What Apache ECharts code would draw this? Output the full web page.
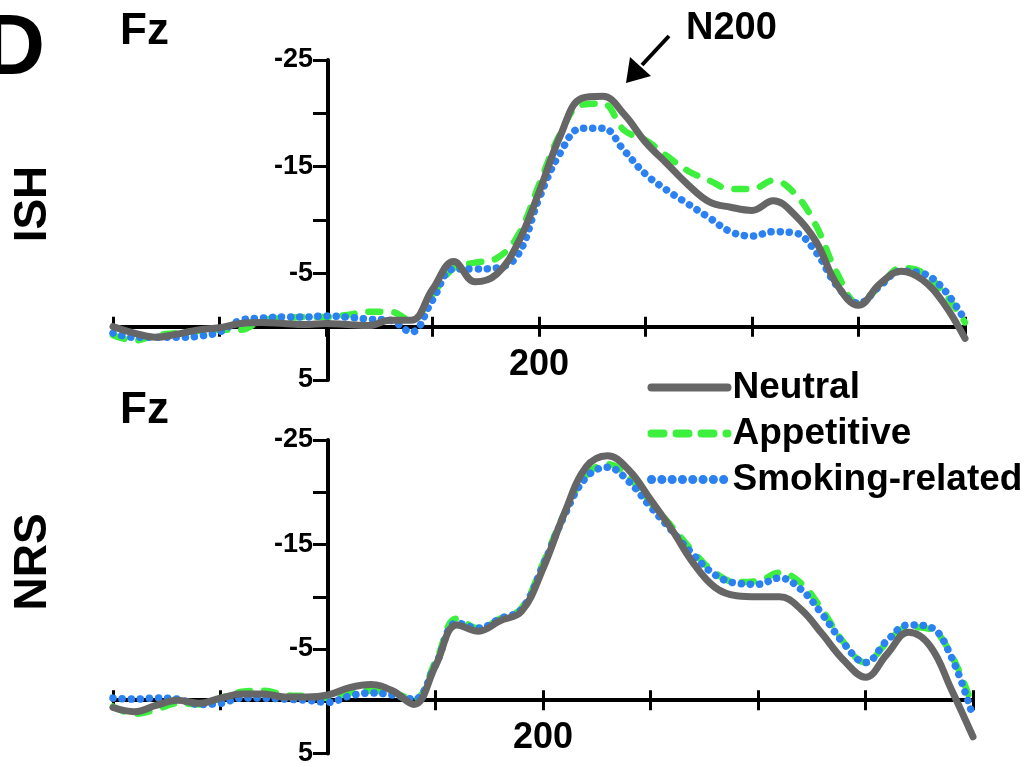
<!DOCTYPE html>
<html>
<head>
<meta charset="utf-8">
<script src="https://cdn.jsdelivr.net/npm/echarts@6/dist/echarts.min.js"></script>
<style>
html, body { margin: 0; padding: 0; background: #fff; }
#main { width: 1032px; height: 767px; }
</style>
</head>
<body>
<div id="main"></div>
<script>
// time points (ms), shared by all waves
const times = [-200, -180, -160, -140, -120, -100, -80, -60, -40, -20, 0, 20, 40, 60, 80, 100, 120, 140, 160, 180,
    200, 220, 240, 260, 280, 300, 320, 340, 360, 380, 400, 420, 440, 460, 480, 500, 520, 540, 560, 580, 600];

// ISH group, Fz (uV)
const ishNeutral = [0.0, 0.6, 1.0, 0.7, 0.3, 0.1, -0.3, -0.4, -0.3, -0.2, -0.3, -0.2, -0.1, -0.6, -0.6, -3.5, -6.1, -4.2, -4.9, -7.8,
    -12.6, -17.9, -21.4, -21.6, -19.9, -17.3, -15.3, -13.3, -11.7, -11.2, -10.9, -11.8, -10.5, -8.0, -3.9, -2.0, -4.0, -5.2, -4.4, -2.2, 1.1];
const ishAppetitive = [0.8, 1.3, 0.8, 0.6, 0.4, 0.3, 0.3, -0.6, -0.8, -0.9, -0.9, -1.1, -1.4, -1.4, -0.6, -3.0, -5.5, -6.0, -6.4, -8.5,
    -13.3, -18.1, -20.8, -20.9, -18.4, -17.5, -16.0, -14.6, -13.7, -12.9, -12.9, -13.7, -12.5, -9.5, -5.0, -2.2, -3.8, -5.5, -5.1, -3.2, -0.4];
const ishSmoking = [0.6, 1.0, 1.0, 1.0, 0.9, 0.5, -0.6, -0.8, -0.9, -0.9, -1.0, -0.9, -0.7, -0.6, 0.5, -2.5, -5.4, -5.4, -5.5, -6.7,
    -12.0, -16.3, -18.6, -18.6, -16.5, -14.3, -12.8, -11.5, -10.2, -8.9, -8.5, -8.9, -8.8, -7.0, -3.8, -2.2, -3.8, -5.2, -5.0, -3.5, -0.6];

// NRS group, Fz (uV)
const nrsNeutral = [0.6, 1.0, 0.4, -0.1, 0.2, -0.3, -0.7, -0.7, -0.4, -0.4, -0.6, -1.3, -1.6, -1.0, 0.3, -3.4, -7.3, -6.7, -7.7, -8.6,
    -12.7, -18.0, -22.4, -23.5, -22.1, -19.3, -16.4, -13.2, -10.9, -10.1, -10.0, -10.0, -8.8, -6.4, -3.9, -2.3, -4.5, -6.6, -5.3, -1.1, 3.4];
const nrsAppetitive = [0.5, 1.2, 0.8, 0.2, 0.3, -0.3, -0.9, -1.0, -0.6, -0.5, -0.3, -0.8, -1.0, -0.8, -0.2, -3.8, -7.9, -7.0, -7.9, -8.9,
    -13.2, -18.0, -21.6, -22.7, -21.4, -19.0, -16.7, -14.3, -12.3, -11.4, -11.5, -12.3, -11.3, -8.7, -5.6, -3.7, -5.6, -7.1, -6.9, -4.4, 0.6];
const nrsSmoking = [-0.3, -0.2, -0.3, -0.2, 0.3, 0.2, -0.3, -0.3, -0.2, -0.1, 0.1, -0.5, -0.8, -0.6, -0.2, -3.5, -7.5, -7.0, -7.9, -8.8,
    -13.0, -17.8, -21.4, -22.4, -21.0, -18.6, -16.3, -14.0, -12.1, -11.3, -11.2, -11.8, -10.7, -8.3, -5.5, -3.7, -5.8, -7.3, -7.1, -4.2, 1.5];

const yTickLabels = [-25, -15, -5, 5];
const xTickLabels = [200];

const FONT = '"Liberation Sans", Arial, sans-serif';
const GRID_H = 320;
// axes cross at (0 ms, 0 uV): shift them from the grid edges
const X_SHIFT = -GRID_H * 5 / 30;
const Y_SHIFT = -(328 - 113);

const conditions = [
    { name: 'Appetitive', color: '#3ef03e', width: 6.5, type: [12, 14], legendType: [12, 13], legendWidth: 8 },
    { name: 'Smoking-related', color: '#2b80f2', width: 7.5, type: [0.1, 9], legendType: [0.1, 10.2], legendWidth: 9 },
    { name: 'Neutral', color: '#666666', width: 7, type: 'solid', legendType: 'solid', legendWidth: 8 }
];
const waves = [
    { Appetitive: ishAppetitive, 'Smoking-related': ishSmoking, Neutral: ishNeutral },
    { Appetitive: nrsAppetitive, 'Smoking-related': nrsSmoking, Neutral: nrsNeutral }
];

function xAxes(gridIndex) {
    const base = {
        type: 'value', gridIndex, min: -200, max: 600, interval: 100,
        position: 'bottom', offset: X_SHIFT,
        axisLine: { show: true, onZero: false, lineStyle: { color: '#000', width: 4 } },
        splitLine: { show: false }
    };
    // two axes on the same line so the ticks cross it
    return [
        Object.assign({}, base, {
            axisTick: { show: true, length: 10, lineStyle: { color: '#000', width: 3 } },
            axisLabel: {
                margin: 20, fontSize: 36, fontWeight: 'bold', color: '#000', fontFamily: FONT,
                formatter: v => xTickLabels.includes(v) ? String(v) : ''
            }
        }),
        Object.assign({}, base, {
            axisTick: { show: true, inside: true, length: 10, lineStyle: { color: '#000', width: 3 } },
            axisLabel: { show: false }
        })
    ];
}

function yAxis(gridIndex) {
    return {
        type: 'value', gridIndex, min: -25, max: 5, interval: 5, inverse: true,
        position: 'left', offset: Y_SHIFT,
        axisLine: { show: true, onZero: false, lineStyle: { color: '#000', width: 4 } },
        axisTick: { show: true, length: 15, lineStyle: { color: '#000', width: 3 } },
        axisLabel: {
            margin: 15, fontSize: 27, fontWeight: 'bold', color: '#000', fontFamily: FONT,
            formatter: v => yTickLabels.includes(v) ? String(v) : ''
        },
        splitLine: { show: false }
    };
}

const series = [];
waves.forEach((panel, p) => {
    conditions.forEach(c => {
        series.push({
            name: c.name, type: 'line', xAxisIndex: p * 2, yAxisIndex: p,
            data: times.map((t, i) => [t, panel[c.name][i]]),
            smooth: 0.4, symbol: 'none', silent: true, animation: false,
            lineStyle: { color: c.color, width: c.width, type: c.type, cap: 'round', join: 'round' },
            itemStyle: { color: c.color }
        });
    });
});

const legendOrder = ['Neutral', 'Appetitive', 'Smoking-related'];
const legendData = legendOrder.map(n => {
    const c = conditions.find(d => d.name === n);
    return {
        name: n,
        itemStyle: { opacity: 0 },
        lineStyle: { color: c.color, width: c.legendWidth, type: c.legendType, cap: 'round' }
    };
});

const txt = (text, x, y, size) => ({
    type: 'text', x, y,
    style: { text, font: 'bold ' + size + 'px ' + FONT, fill: '#000', textAlign: 'left', textVerticalAlign: 'middle' }
});
const vtxt = (text, x, y, size) => ({
    type: 'text', x, y, rotation: Math.PI / 2,
    style: { text, font: 'bold ' + size + 'px ' + FONT, fill: '#000', textAlign: 'center', textVerticalAlign: 'middle' }
});

const chart = echarts.init(document.getElementById('main'));
chart.setOption({
    animation: false,
    backgroundColor: '#fff',
    grid: [
        { left: 113, top: 60, width: 852, height: GRID_H },
        { left: 113, top: 440, width: 860, height: GRID_H }
    ],
    xAxis: xAxes(0).concat(xAxes(1)),
    yAxis: [yAxis(0), yAxis(1)],
    legend: {
        orient: 'vertical', left: 642, top: 363, itemWidth: 76, itemHeight: 12, itemGap: 7,
        selectedMode: false,
        data: legendData,
        textStyle: { fontSize: 37, fontWeight: 'bold', color: '#000', fontFamily: FONT, lineHeight: 39 }
    },
    graphic: [
        txt('D', -17, 50, 86),
        txt('Fz', 120, 32, 44),
        txt('Fz', 120, 411, 44),
        txt('N200', 686, 29, 38),
        vtxt('ISH', 33, 204, 46),
        vtxt('NRS', 33, 562, 46),
        { type: 'line', shape: { x1: 669, y1: 36, x2: 642, y2: 65 }, style: { stroke: '#000', lineWidth: 4 } },
        { type: 'polygon', shape: { points: [[626, 83], [630, 57], [651, 76]] }, style: { fill: '#000' } }
    ],
    series
});
</script>
</body>
</html>
